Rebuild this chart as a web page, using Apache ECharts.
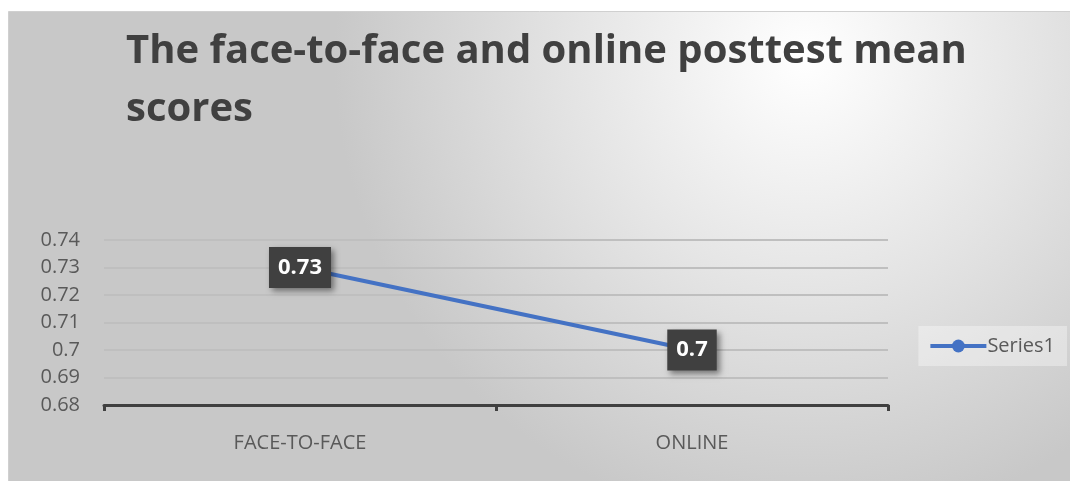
<!DOCTYPE html>
<html>
<head>
<meta charset="utf-8">
<script src="https://cdn.jsdelivr.net/npm/echarts@6/dist/echarts.min.js"></script>
<style>
  html, body { margin: 0; padding: 0; background: #fff; }
  #main { width: 1070px; height: 481px; }
</style>
</head>
<body>
<div id="main"></div>
<script>
// 数据
const categories = ['FACE-TO-FACE', 'ONLINE'];
const series1 = [0.73, 0.7];
const seriesName = 'Series1';
const titleText = 'The face-to-face and online posttest mean\nscores';

{
  let option = {
    animation: false,
    backgroundColor: '#fff',
    graphic: [{
      type: 'rect',
      left: 8,
      top: 11,
      shape: { width: 1062, height: 470 },
      style: {
        fill: {
          type: 'radial', x: 0.75, y: 0.1, r: 1.0,
          colorStops: [
            { offset: 0, color: '#ffffff' },
            { offset: 0.5, color: '#e4e4e4' },
            { offset: 1, color: '#c8c8c8' }
          ]
        },
        stroke: '#d0d0d0',
        lineWidth: 1
      },
      z: -10
    }],
    title: {
      text: titleText,
      left: 121,
      top: 18,
      textStyle: {
        fontFamily: 'Open Sans',
        fontWeight: 'bold',
        fontSize: 40,
        lineHeight: 58,
        color: '#404040'
      }
    },
    legend: {
      data: [seriesName],
      right: 3,
      top: 326,
      padding: [10, 12, 10, 10],
      backgroundColor: 'rgba(255,255,255,0.35)',
      itemWidth: 56,
      itemHeight: 16,
      lineStyle: { width: 4, color: '#4472C4' },
      textStyle: { fontFamily: 'Open Sans', fontSize: 20, color: '#595959', padding: [0, 0, 0, -4] }
    },
    grid: {
      left: 104,
      right: 182,
      top: 240,
      bottom: 76,
      containLabel: false
    },
    xAxis: {
      type: 'category',
      data: categories,
      boundaryGap: true,
      axisLine: { lineStyle: { color: '#404040', width: 3 } },
      axisTick: { show: true, length: 6, inside: false, lineStyle: { color: '#404040', width: 3 } },
      axisLabel: { margin: 28, fontFamily: 'Open Sans', fontSize: 20, color: '#595959' }
    },
    yAxis: {
      type: 'value',
      min: 0.68,
      max: 0.74,
      interval: 0.01,
      axisLine: { show: false },
      axisTick: { show: false },
      axisLabel: {
        margin: 24,
        fontFamily: 'Open Sans',
        fontSize: 20,
        color: '#595959',
        formatter: v => String(Math.round(v * 100) / 100)
      },
      splitLine: { lineStyle: { color: '#bfbfbf', width: 2 } }
    },
    series: [{
      name: seriesName,
      type: 'line',
      data: series1,
      symbol: 'circle',
      symbolSize: 12,
      itemStyle: { color: '#4472C4' },
      lineStyle: { color: '#4472C4', width: 4 },
      label: {
        show: true,
        position: 'inside',
        fontFamily: 'Open Sans',
        fontWeight: 'bold',
        fontSize: 22,
        color: '#ffffff',
        backgroundColor: '#404040',
        padding: [10, 9, 9, 9],
        shadowColor: 'rgba(0,0,0,0.45)',
        shadowBlur: 6,
        shadowOffsetX: 3,
        shadowOffsetY: 3
      }
    }]
  };
  let myChart = echarts.init(document.querySelector('#main'));
  myChart.setOption(option);
}
</script>
</body>
</html>
